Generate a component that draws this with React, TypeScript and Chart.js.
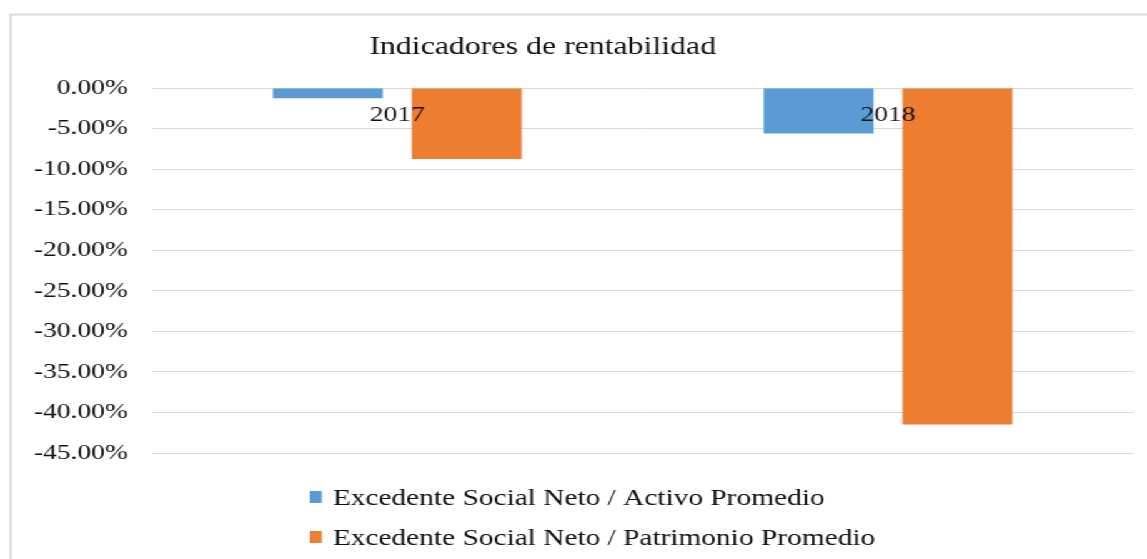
import React, { useEffect, useRef } from "react";
import { Chart, registerables } from "chart.js";

Chart.register(...registerables);

const categories: string[] = ["2017", "2018"];
const activoValues: number[] = [-1.25, -5.6];
const patrimonioValues: number[] = [-8.75, -41.5];
const seriesNames: string[] = [
  "Excedente Social Neto / Activo Promedio",
  "Excedente Social Neto / Patrimonio Promedio",
];
const titleText = "Indicadores de rentabilidad";
const yMin = -45;
const yMax = 0;
const yStep = 5;

const K = 1.25;
const INNER_W = Math.round(1147 / K);
const FONT = '"Liberation Serif", "Times New Roman", serif';
const TEXT = "#111111";

const decorPlugin = {
  id: "decor",
  beforeDraw(chart: any) {
    const ctx = chart.ctx;
    ctx.save();
    ctx.strokeStyle = "#d9d9d9";
    ctx.lineWidth = 2;
    ctx.strokeRect(8.5, 14.5, 3000, 3000);
    ctx.restore();
  },
  afterDraw(chart: any) {
    const ctx = chart.ctx;
    ctx.save();
    ctx.fillStyle = TEXT;
    ctx.font = `25.5px ${FONT}`;
    ctx.textAlign = "center";
    ctx.textBaseline = "alphabetic";
    ctx.fillText(titleText, 543 / K, 54);

    // legend
    const rows = [505, 545];
    chart.data.datasets.forEach((ds: any, i: number) => {
      const by = rows[i];
      ctx.fillStyle = ds.backgroundColor;
      ctx.fillRect(310 / K, by - 14, 12 / K, 12);
      ctx.fillStyle = TEXT;
      ctx.font = `23.5px ${FONT}`;
      ctx.textAlign = "left";
      ctx.fillText(ds.label, 333 / K, by);
    });
    ctx.restore();
  },
};

export default function App() {
  const canvasRef = useRef<HTMLCanvasElement | null>(null);

  useEffect(() => {
    if (!canvasRef.current) return;
    const chart = new Chart(canvasRef.current, {
      type: "bar",
      data: {
        labels: categories,
        datasets: [
          {
            label: seriesNames[0],
            data: activoValues,
            backgroundColor: "#5b9bd5",
            categoryPercentage: 0.566,
            barPercentage: 0.791,
          },
          {
            label: seriesNames[1],
            data: patrimonioValues,
            backgroundColor: "#ed7d31",
            categoryPercentage: 0.566,
            barPercentage: 0.791,
          },
        ],
      },
      options: {
        animation: false,
        responsive: true,
        maintainAspectRatio: false,
        layout: {
          padding: { left: 0, right: INNER_W - 1134 / K, top: 88, bottom: 106 },
        },
        plugins: {
          legend: { display: false },
          title: { display: false },
          tooltip: { enabled: false },
        },
        scales: {
          x: {
            position: { y: 0 } as any,
            grid: { display: false, drawTicks: false },
            border: { display: false },
            ticks: {
              z: 1,
              color: TEXT,
              font: { family: FONT, size: 22 },
              padding: 14,
              maxRotation: 0,
            },
          },
          y: {
            min: yMin,
            max: yMax,
            grid: { color: "#d9d9d9", lineWidth: 1, drawTicks: false },
            border: { display: false },
            ticks: {
              stepSize: yStep,
              color: TEXT,
              font: { family: FONT, size: 22 },
              padding: 152 / K - 128 / K,
              callback: (v: any) => Number(v).toFixed(2) + "%",
            },
            afterFit: (scale: any) => {
              scale.width = 152 / K;
            },
          },
        },
      },
      plugins: [decorPlugin],
    });
    return () => chart.destroy();
  }, []);

  return (
    <div
      style={{
        position: "fixed",
        left: 0,
        top: 0,
        width: INNER_W + "px",
        height: "559px",
        transform: `scaleX(${1147 / INNER_W})`,
        transformOrigin: "0 0",
        background: "#fff",
      }}
    >
      <canvas ref={canvasRef} />
    </div>
  );
}
